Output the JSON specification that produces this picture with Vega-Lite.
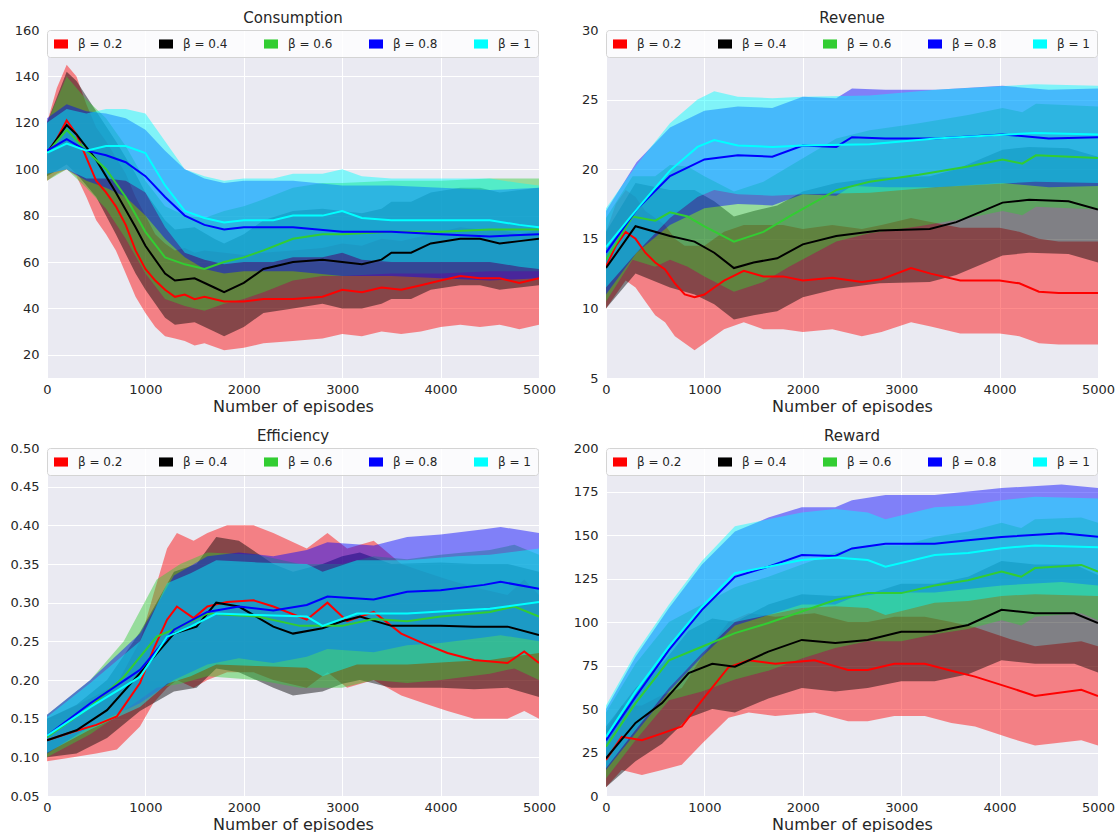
{
"$schema": "https://vega.github.io/schema/vega-lite/v6.json",
"background": "white",
"padding": {"left": 10, "top": 11, "right": 0, "bottom": 0},
"config": {
  "view": {"fill": "#EAEAF2", "stroke": null},
  "axis": {"grid": true, "gridColor": "#ffffff", "gridWidth": 1, "domain": false, "ticks": false, "labelFont": "DejaVu Sans", "labelFontSize": 13, "labelColor": "#262626", "titleFont": "DejaVu Sans", "titleFontSize": 16, "titleFontWeight": "normal", "titleColor": "#262626", "labelPadding": 8, "titlePadding": 2, "labelFlush": false, "labelOverlap": false},
  "axisX": {"labelPadding": 5},
  "title": {"font": "DejaVu Sans", "fontSize": 15, "fontWeight": "normal", "color": "#262626", "offset": -2},
  "legend": {"direction": "horizontal", "columns": 5, "columnPadding": 36, "padding": 7, "fillColor": "rgba(255,255,255,0.82)", "strokeColor": "#d4d4d4", "cornerRadius": 3, "symbolType": "M-1,-0.65L1,-0.65L1,0.65L-1,0.65Z", "symbolSize": 196, "symbolOpacity": 1, "symbolStrokeWidth": 0, "labelFont": "DejaVu Sans", "labelFontSize": 12, "labelColor": "#262626", "labelOffset": 10}
},
"datasets": {
"C": [
{"b":"β = 0.2","x":0,"y":107,"lo":95,"hi":120},{"b":"β = 0.2","x":100,"y":113,"lo":98,"hi":135},{"b":"β = 0.2","x":200,"y":121,"lo":100,"hi":145},{"b":"β = 0.2","x":300,"y":115,"lo":97,"hi":140},{"b":"β = 0.2","x":400,"y":105,"lo":88,"hi":128},{"b":"β = 0.2","x":500,"y":95,"lo":78,"hi":118},{"b":"β = 0.2","x":600,"y":90,"lo":72,"hi":112},{"b":"β = 0.2","x":700,"y":84,"lo":65,"hi":105},{"b":"β = 0.2","x":800,"y":76,"lo":55,"hi":98},{"b":"β = 0.2","x":900,"y":65,"lo":45,"hi":88},{"b":"β = 0.2","x":1000,"y":57,"lo":38,"hi":80},{"b":"β = 0.2","x":1100,"y":52,"lo":32,"hi":72},{"b":"β = 0.2","x":1200,"y":48,"lo":28,"hi":68},{"b":"β = 0.2","x":1300,"y":45,"lo":27,"hi":65},{"b":"β = 0.2","x":1400,"y":46,"lo":26,"hi":66},{"b":"β = 0.2","x":1500,"y":44,"lo":24,"hi":64},{"b":"β = 0.2","x":1600,"y":45,"lo":25,"hi":65},{"b":"β = 0.2","x":1800,"y":43,"lo":22,"hi":64},{"b":"β = 0.2","x":2000,"y":43,"lo":23,"hi":63},{"b":"β = 0.2","x":2200,"y":44,"lo":25,"hi":64},{"b":"β = 0.2","x":2500,"y":44,"lo":26,"hi":65},{"b":"β = 0.2","x":2800,"y":45,"lo":27,"hi":66},{"b":"β = 0.2","x":3000,"y":48,"lo":29,"hi":68},{"b":"β = 0.2","x":3200,"y":47,"lo":28,"hi":67},{"b":"β = 0.2","x":3400,"y":49,"lo":30,"hi":70},{"b":"β = 0.2","x":3600,"y":48,"lo":29,"hi":69},{"b":"β = 0.2","x":3800,"y":50,"lo":30,"hi":71},{"b":"β = 0.2","x":4000,"y":52,"lo":32,"hi":73},{"b":"β = 0.2","x":4200,"y":54,"lo":33,"hi":75},{"b":"β = 0.2","x":4400,"y":53,"lo":32,"hi":74},{"b":"β = 0.2","x":4600,"y":53,"lo":33,"hi":74},{"b":"β = 0.2","x":4800,"y":51,"lo":31,"hi":72},{"b":"β = 0.2","x":5000,"y":53,"lo":33,"hi":74},
{"b":"β = 0.4","x":0,"y":107,"lo":97,"hi":120},{"b":"β = 0.4","x":200,"y":119,"lo":102,"hi":142},{"b":"β = 0.4","x":300,"y":115,"lo":98,"hi":138},{"b":"β = 0.4","x":500,"y":104,"lo":88,"hi":125},{"b":"β = 0.4","x":700,"y":90,"lo":72,"hi":112},{"b":"β = 0.4","x":900,"y":75,"lo":55,"hi":98},{"b":"β = 0.4","x":1000,"y":67,"lo":48,"hi":90},{"b":"β = 0.4","x":1200,"y":55,"lo":36,"hi":78},{"b":"β = 0.4","x":1300,"y":52,"lo":33,"hi":74},{"b":"β = 0.4","x":1500,"y":53,"lo":34,"hi":75},{"b":"β = 0.4","x":1700,"y":49,"lo":30,"hi":70},{"b":"β = 0.4","x":1800,"y":47,"lo":28,"hi":68},{"b":"β = 0.4","x":2000,"y":51,"lo":32,"hi":72},{"b":"β = 0.4","x":2200,"y":57,"lo":38,"hi":78},{"b":"β = 0.4","x":2500,"y":60,"lo":40,"hi":82},{"b":"β = 0.4","x":2800,"y":61,"lo":42,"hi":83},{"b":"β = 0.4","x":3000,"y":60,"lo":40,"hi":82},{"b":"β = 0.4","x":3200,"y":59,"lo":40,"hi":81},{"b":"β = 0.4","x":3400,"y":61,"lo":42,"hi":83},{"b":"β = 0.4","x":3500,"y":64,"lo":44,"hi":86},{"b":"β = 0.4","x":3700,"y":64,"lo":44,"hi":86},{"b":"β = 0.4","x":3900,"y":68,"lo":48,"hi":90},{"b":"β = 0.4","x":4200,"y":70,"lo":50,"hi":92},{"b":"β = 0.4","x":4400,"y":70,"lo":50,"hi":92},{"b":"β = 0.4","x":4600,"y":68,"lo":48,"hi":90},{"b":"β = 0.4","x":4800,"y":69,"lo":49,"hi":91},{"b":"β = 0.4","x":5000,"y":70,"lo":50,"hi":92},
{"b":"β = 0.6","x":0,"y":107,"lo":95,"hi":120},{"b":"β = 0.6","x":200,"y":117,"lo":100,"hi":140},{"b":"β = 0.6","x":400,"y":108,"lo":92,"hi":130},{"b":"β = 0.6","x":600,"y":100,"lo":83,"hi":122},{"b":"β = 0.6","x":800,"y":88,"lo":70,"hi":110},{"b":"β = 0.6","x":1000,"y":73,"lo":55,"hi":95},{"b":"β = 0.6","x":1200,"y":62,"lo":44,"hi":84},{"b":"β = 0.6","x":1400,"y":59,"lo":41,"hi":80},{"b":"β = 0.6","x":1600,"y":57,"lo":39,"hi":79},{"b":"β = 0.6","x":1800,"y":60,"lo":42,"hi":82},{"b":"β = 0.6","x":2000,"y":62,"lo":44,"hi":84},{"b":"β = 0.6","x":2200,"y":65,"lo":47,"hi":87},{"b":"β = 0.6","x":2500,"y":70,"lo":52,"hi":92},{"b":"β = 0.6","x":2800,"y":72,"lo":54,"hi":94},{"b":"β = 0.6","x":3000,"y":72,"lo":54,"hi":94},{"b":"β = 0.6","x":3500,"y":73,"lo":55,"hi":95},{"b":"β = 0.6","x":4000,"y":73,"lo":55,"hi":95},{"b":"β = 0.6","x":4500,"y":74,"lo":56,"hi":96},{"b":"β = 0.6","x":5000,"y":74,"lo":56,"hi":96},
{"b":"β = 0.8","x":0,"y":108,"lo":98,"hi":122},{"b":"β = 0.8","x":200,"y":113,"lo":100,"hi":128},{"b":"β = 0.8","x":400,"y":108,"lo":95,"hi":125},{"b":"β = 0.8","x":600,"y":106,"lo":92,"hi":124},{"b":"β = 0.8","x":800,"y":103,"lo":88,"hi":122},{"b":"β = 0.8","x":1000,"y":97,"lo":80,"hi":117},{"b":"β = 0.8","x":1200,"y":88,"lo":70,"hi":108},{"b":"β = 0.8","x":1400,"y":80,"lo":62,"hi":100},{"b":"β = 0.8","x":1600,"y":76,"lo":57,"hi":96},{"b":"β = 0.8","x":1800,"y":74,"lo":55,"hi":94},{"b":"β = 0.8","x":2000,"y":75,"lo":56,"hi":95},{"b":"β = 0.8","x":2500,"y":75,"lo":56,"hi":95},{"b":"β = 0.8","x":3000,"y":73,"lo":54,"hi":93},{"b":"β = 0.8","x":3500,"y":73,"lo":54,"hi":93},{"b":"β = 0.8","x":4000,"y":72,"lo":53,"hi":92},{"b":"β = 0.8","x":4500,"y":71,"lo":52,"hi":91},{"b":"β = 0.8","x":5000,"y":72,"lo":53,"hi":92},
{"b":"β = 1","x":0,"y":107,"lo":98,"hi":120},{"b":"β = 1","x":200,"y":111,"lo":100,"hi":126},{"b":"β = 1","x":400,"y":108,"lo":96,"hi":124},{"b":"β = 1","x":600,"y":110,"lo":96,"hi":126},{"b":"β = 1","x":800,"y":110,"lo":95,"hi":126},{"b":"β = 1","x":1000,"y":107,"lo":90,"hi":124},{"b":"β = 1","x":1200,"y":93,"lo":75,"hi":112},{"b":"β = 1","x":1400,"y":82,"lo":64,"hi":100},{"b":"β = 1","x":1600,"y":79,"lo":61,"hi":97},{"b":"β = 1","x":1800,"y":77,"lo":59,"hi":95},{"b":"β = 1","x":2000,"y":78,"lo":60,"hi":96},{"b":"β = 1","x":2300,"y":78,"lo":60,"hi":96},{"b":"β = 1","x":2500,"y":80,"lo":62,"hi":98},{"b":"β = 1","x":2800,"y":80,"lo":62,"hi":98},{"b":"β = 1","x":3000,"y":82,"lo":64,"hi":100},{"b":"β = 1","x":3200,"y":79,"lo":61,"hi":97},{"b":"β = 1","x":3500,"y":78,"lo":60,"hi":96},{"b":"β = 1","x":4000,"y":78,"lo":60,"hi":96},{"b":"β = 1","x":4500,"y":78,"lo":60,"hi":96},{"b":"β = 1","x":4800,"y":76,"lo":58,"hi":94},{"b":"β = 1","x":5000,"y":75,"lo":57,"hi":93}
],
"R": [
{"b":"β = 0.2","x":0,"y":13.0,"lo":10,"hi":15.5},{"b":"β = 0.2","x":100,"y":14.5,"lo":11,"hi":17.5},{"b":"β = 0.2","x":200,"y":15.5,"lo":12,"hi":18.5},{"b":"β = 0.2","x":300,"y":15.0,"lo":11.5,"hi":18},{"b":"β = 0.2","x":400,"y":14.0,"lo":10.5,"hi":17},{"b":"β = 0.2","x":500,"y":13.3,"lo":9.5,"hi":16.5},{"b":"β = 0.2","x":600,"y":12.8,"lo":9,"hi":16},{"b":"β = 0.2","x":700,"y":11.8,"lo":8,"hi":15},{"b":"β = 0.2","x":800,"y":11.0,"lo":7.5,"hi":14.5},{"b":"β = 0.2","x":900,"y":10.8,"lo":7,"hi":14.5},{"b":"β = 0.2","x":1000,"y":11.0,"lo":7.5,"hi":14.5},{"b":"β = 0.2","x":1100,"y":11.5,"lo":8,"hi":15},{"b":"β = 0.2","x":1200,"y":12.0,"lo":8.5,"hi":15.5},{"b":"β = 0.2","x":1400,"y":12.7,"lo":9,"hi":16},{"b":"β = 0.2","x":1600,"y":12.3,"lo":8.5,"hi":16},{"b":"β = 0.2","x":1800,"y":12.3,"lo":8.5,"hi":16},{"b":"β = 0.2","x":2000,"y":12.0,"lo":8.3,"hi":15.7},{"b":"β = 0.2","x":2300,"y":12.2,"lo":8.5,"hi":16},{"b":"β = 0.2","x":2600,"y":11.9,"lo":8,"hi":15.7},{"b":"β = 0.2","x":2800,"y":12.1,"lo":8.3,"hi":16},{"b":"β = 0.2","x":3100,"y":12.9,"lo":9,"hi":16.5},{"b":"β = 0.2","x":3300,"y":12.5,"lo":8.7,"hi":16.2},{"b":"β = 0.2","x":3600,"y":12.0,"lo":8.2,"hi":15.8},{"b":"β = 0.2","x":4000,"y":12.0,"lo":8.2,"hi":15.8},{"b":"β = 0.2","x":4200,"y":11.8,"lo":8,"hi":15.5},{"b":"β = 0.2","x":4400,"y":11.2,"lo":7.5,"hi":15},{"b":"β = 0.2","x":4600,"y":11.1,"lo":7.4,"hi":14.8},{"b":"β = 0.2","x":5000,"y":11.1,"lo":7.4,"hi":14.8},
{"b":"β = 0.4","x":0,"y":12.9,"lo":10,"hi":15.5},{"b":"β = 0.4","x":300,"y":15.9,"lo":12.5,"hi":19},{"b":"β = 0.4","x":650,"y":15.2,"lo":11.5,"hi":18.5},{"b":"β = 0.4","x":900,"y":14.8,"lo":11,"hi":18.5},{"b":"β = 0.4","x":1100,"y":14.0,"lo":10.3,"hi":17.7},{"b":"β = 0.4","x":1300,"y":12.9,"lo":9.2,"hi":16.6},{"b":"β = 0.4","x":1500,"y":13.3,"lo":9.5,"hi":17},{"b":"β = 0.4","x":1740,"y":13.6,"lo":9.8,"hi":17.4},{"b":"β = 0.4","x":2000,"y":14.6,"lo":10.8,"hi":18.4},{"b":"β = 0.4","x":2340,"y":15.2,"lo":11.4,"hi":19},{"b":"β = 0.4","x":2780,"y":15.6,"lo":11.8,"hi":19.4},{"b":"β = 0.4","x":3290,"y":15.7,"lo":11.9,"hi":19.5},{"b":"β = 0.4","x":3560,"y":16.2,"lo":12.4,"hi":20},{"b":"β = 0.4","x":4030,"y":17.6,"lo":13.8,"hi":21.4},{"b":"β = 0.4","x":4300,"y":17.8,"lo":14,"hi":21.6},{"b":"β = 0.4","x":4700,"y":17.7,"lo":13.9,"hi":21.5},{"b":"β = 0.4","x":5000,"y":17.1,"lo":13.3,"hi":20.9},
{"b":"β = 0.6","x":0,"y":13.5,"lo":10.5,"hi":16.5},{"b":"β = 0.6","x":270,"y":16.6,"lo":13.5,"hi":19.5},{"b":"β = 0.6","x":500,"y":16.3,"lo":13,"hi":19.5},{"b":"β = 0.6","x":650,"y":16.9,"lo":13.5,"hi":20.3},{"b":"β = 0.6","x":830,"y":16.6,"lo":13,"hi":20.2},{"b":"β = 0.6","x":1000,"y":15.9,"lo":12.3,"hi":19.5},{"b":"β = 0.6","x":1300,"y":14.8,"lo":11.2,"hi":18.4},{"b":"β = 0.6","x":1600,"y":15.5,"lo":11.9,"hi":19.1},{"b":"β = 0.6","x":1860,"y":16.6,"lo":13,"hi":20.2},{"b":"β = 0.6","x":2340,"y":18.5,"lo":14.8,"hi":22.2},{"b":"β = 0.6","x":2680,"y":19.1,"lo":15.4,"hi":22.8},{"b":"β = 0.6","x":3180,"y":19.6,"lo":15.9,"hi":23.3},{"b":"β = 0.6","x":3680,"y":20.2,"lo":16.5,"hi":23.9},{"b":"β = 0.6","x":4030,"y":20.7,"lo":17,"hi":24.4},{"b":"β = 0.6","x":4230,"y":20.4,"lo":16.7,"hi":24.1},{"b":"β = 0.6","x":4370,"y":21.0,"lo":17.3,"hi":24.7},{"b":"β = 0.6","x":5000,"y":20.8,"lo":17.1,"hi":24.5},
{"b":"β = 0.8","x":0,"y":14.0,"lo":11,"hi":17},{"b":"β = 0.8","x":310,"y":17.1,"lo":14,"hi":20.5},{"b":"β = 0.8","x":650,"y":19.5,"lo":16,"hi":23},{"b":"β = 0.8","x":1000,"y":20.7,"lo":17.2,"hi":24.2},{"b":"β = 0.8","x":1340,"y":21.0,"lo":17.5,"hi":24.5},{"b":"β = 0.8","x":1690,"y":20.9,"lo":17.4,"hi":24.4},{"b":"β = 0.8","x":2000,"y":21.7,"lo":18.2,"hi":25.2},{"b":"β = 0.8","x":2340,"y":21.6,"lo":18.1,"hi":25.1},{"b":"β = 0.8","x":2500,"y":22.3,"lo":18.8,"hi":25.8},{"b":"β = 0.8","x":2840,"y":22.2,"lo":18.7,"hi":25.7},{"b":"β = 0.8","x":3350,"y":22.2,"lo":18.7,"hi":25.7},{"b":"β = 0.8","x":4030,"y":22.5,"lo":19,"hi":26},{"b":"β = 0.8","x":4500,"y":22.2,"lo":18.7,"hi":25.7},{"b":"β = 0.8","x":5000,"y":22.3,"lo":18.8,"hi":25.8},
{"b":"β = 1","x":0,"y":14.4,"lo":11.5,"hi":17.2},{"b":"β = 1","x":310,"y":17.1,"lo":14,"hi":20.3},{"b":"β = 1","x":650,"y":19.9,"lo":16.5,"hi":23.3},{"b":"β = 1","x":930,"y":21.6,"lo":18,"hi":25},{"b":"β = 1","x":1100,"y":22.1,"lo":18.5,"hi":25.6},{"b":"β = 1","x":1340,"y":21.7,"lo":18.2,"hi":25.2},{"b":"β = 1","x":1690,"y":21.6,"lo":18.1,"hi":25.1},{"b":"β = 1","x":2000,"y":21.7,"lo":18.2,"hi":25.2},{"b":"β = 1","x":2680,"y":21.8,"lo":18.3,"hi":25.3},{"b":"β = 1","x":3350,"y":22.2,"lo":18.7,"hi":25.7},{"b":"β = 1","x":4360,"y":22.6,"lo":19.1,"hi":26.1},{"b":"β = 1","x":5000,"y":22.5,"lo":19,"hi":26}
],
"E": [
{"b":"β = 0.2","x":0,"y":0.122,"lo":0.095,"hi":0.15},{"b":"β = 0.2","x":265,"y":0.133,"lo":0.1,"hi":0.165},{"b":"β = 0.2","x":500,"y":0.142,"lo":0.105,"hi":0.18},{"b":"β = 0.2","x":710,"y":0.153,"lo":0.11,"hi":0.195},{"b":"β = 0.2","x":945,"y":0.196,"lo":0.14,"hi":0.25},{"b":"β = 0.2","x":1080,"y":0.239,"lo":0.17,"hi":0.31},{"b":"β = 0.2","x":1220,"y":0.278,"lo":0.19,"hi":0.37},{"b":"β = 0.2","x":1320,"y":0.295,"lo":0.2,"hi":0.39},{"b":"β = 0.2","x":1490,"y":0.28,"lo":0.19,"hi":0.38},{"b":"β = 0.2","x":1630,"y":0.295,"lo":0.2,"hi":0.39},{"b":"β = 0.2","x":1830,"y":0.301,"lo":0.21,"hi":0.4},{"b":"β = 0.2","x":2100,"y":0.303,"lo":0.21,"hi":0.4},{"b":"β = 0.2","x":2300,"y":0.295,"lo":0.2,"hi":0.39},{"b":"β = 0.2","x":2640,"y":0.278,"lo":0.19,"hi":0.37},{"b":"β = 0.2","x":2850,"y":0.3,"lo":0.21,"hi":0.39},{"b":"β = 0.2","x":3050,"y":0.276,"lo":0.19,"hi":0.37},{"b":"β = 0.2","x":3320,"y":0.288,"lo":0.2,"hi":0.38},{"b":"β = 0.2","x":3600,"y":0.26,"lo":0.18,"hi":0.35},{"b":"β = 0.2","x":3830,"y":0.247,"lo":0.17,"hi":0.34},{"b":"β = 0.2","x":4070,"y":0.235,"lo":0.16,"hi":0.33},{"b":"β = 0.2","x":4340,"y":0.226,"lo":0.15,"hi":0.32},{"b":"β = 0.2","x":4680,"y":0.222,"lo":0.15,"hi":0.31},{"b":"β = 0.2","x":4850,"y":0.237,"lo":0.16,"hi":0.33},{"b":"β = 0.2","x":5000,"y":0.222,"lo":0.15,"hi":0.31},
{"b":"β = 0.4","x":0,"y":0.122,"lo":0.1,"hi":0.15},{"b":"β = 0.4","x":300,"y":0.135,"lo":0.105,"hi":0.168},{"b":"β = 0.4","x":610,"y":0.161,"lo":0.125,"hi":0.2},{"b":"β = 0.4","x":945,"y":0.209,"lo":0.16,"hi":0.262},{"b":"β = 0.4","x":1290,"y":0.26,"lo":0.185,"hi":0.34},{"b":"β = 0.4","x":1520,"y":0.269,"lo":0.19,"hi":0.35},{"b":"β = 0.4","x":1720,"y":0.3,"lo":0.215,"hi":0.385},{"b":"β = 0.4","x":1950,"y":0.295,"lo":0.21,"hi":0.38},{"b":"β = 0.4","x":2300,"y":0.269,"lo":0.19,"hi":0.35},{"b":"β = 0.4","x":2500,"y":0.26,"lo":0.18,"hi":0.34},{"b":"β = 0.4","x":2800,"y":0.267,"lo":0.185,"hi":0.35},{"b":"β = 0.4","x":3000,"y":0.276,"lo":0.195,"hi":0.36},{"b":"β = 0.4","x":3180,"y":0.282,"lo":0.2,"hi":0.365},{"b":"β = 0.4","x":3500,"y":0.27,"lo":0.19,"hi":0.35},{"b":"β = 0.4","x":4000,"y":0.27,"lo":0.19,"hi":0.352},{"b":"β = 0.4","x":4340,"y":0.269,"lo":0.188,"hi":0.35},{"b":"β = 0.4","x":4680,"y":0.269,"lo":0.19,"hi":0.35},{"b":"β = 0.4","x":5000,"y":0.258,"lo":0.178,"hi":0.34},
{"b":"β = 0.6","x":0,"y":0.126,"lo":0.1,"hi":0.155},{"b":"β = 0.6","x":440,"y":0.165,"lo":0.13,"hi":0.2},{"b":"β = 0.6","x":780,"y":0.204,"lo":0.16,"hi":0.25},{"b":"β = 0.6","x":1115,"y":0.256,"lo":0.19,"hi":0.33},{"b":"β = 0.6","x":1355,"y":0.269,"lo":0.195,"hi":0.35},{"b":"β = 0.6","x":1630,"y":0.286,"lo":0.205,"hi":0.365},{"b":"β = 0.6","x":2140,"y":0.282,"lo":0.2,"hi":0.362},{"b":"β = 0.6","x":2570,"y":0.27,"lo":0.19,"hi":0.35},{"b":"β = 0.6","x":3000,"y":0.27,"lo":0.19,"hi":0.35},{"b":"β = 0.6","x":3320,"y":0.279,"lo":0.2,"hi":0.36},{"b":"β = 0.6","x":3660,"y":0.276,"lo":0.196,"hi":0.356},{"b":"β = 0.6","x":4000,"y":0.282,"lo":0.2,"hi":0.362},{"b":"β = 0.6","x":4500,"y":0.288,"lo":0.208,"hi":0.368},{"b":"β = 0.6","x":4750,"y":0.295,"lo":0.215,"hi":0.375},{"b":"β = 0.6","x":5000,"y":0.282,"lo":0.2,"hi":0.362},
{"b":"β = 0.8","x":0,"y":0.128,"lo":0.105,"hi":0.155},{"b":"β = 0.8","x":440,"y":0.17,"lo":0.14,"hi":0.2},{"b":"β = 0.8","x":945,"y":0.213,"lo":0.17,"hi":0.26},{"b":"β = 0.8","x":1290,"y":0.265,"lo":0.2,"hi":0.335},{"b":"β = 0.8","x":1630,"y":0.288,"lo":0.22,"hi":0.36},{"b":"β = 0.8","x":1950,"y":0.295,"lo":0.228,"hi":0.365},{"b":"β = 0.8","x":2300,"y":0.29,"lo":0.222,"hi":0.36},{"b":"β = 0.8","x":2640,"y":0.297,"lo":0.23,"hi":0.368},{"b":"β = 0.8","x":2850,"y":0.308,"lo":0.24,"hi":0.378},{"b":"β = 0.8","x":3320,"y":0.304,"lo":0.236,"hi":0.374},{"b":"β = 0.8","x":3660,"y":0.314,"lo":0.245,"hi":0.385},{"b":"β = 0.8","x":4000,"y":0.316,"lo":0.248,"hi":0.388},{"b":"β = 0.8","x":4440,"y":0.323,"lo":0.255,"hi":0.395},{"b":"β = 0.8","x":4610,"y":0.327,"lo":0.258,"hi":0.398},{"b":"β = 0.8","x":5000,"y":0.318,"lo":0.25,"hi":0.39},
{"b":"β = 1","x":0,"y":0.128,"lo":0.106,"hi":0.152},{"b":"β = 1","x":440,"y":0.165,"lo":0.136,"hi":0.196},{"b":"β = 1","x":945,"y":0.204,"lo":0.165,"hi":0.25},{"b":"β = 1","x":1220,"y":0.256,"lo":0.195,"hi":0.325},{"b":"β = 1","x":1460,"y":0.269,"lo":0.205,"hi":0.338},{"b":"β = 1","x":1720,"y":0.286,"lo":0.22,"hi":0.355},{"b":"β = 1","x":2140,"y":0.284,"lo":0.218,"hi":0.352},{"b":"β = 1","x":2640,"y":0.282,"lo":0.216,"hi":0.35},{"b":"β = 1","x":2800,"y":0.27,"lo":0.205,"hi":0.34},{"b":"β = 1","x":3150,"y":0.286,"lo":0.22,"hi":0.355},{"b":"β = 1","x":3660,"y":0.286,"lo":0.22,"hi":0.355},{"b":"β = 1","x":4170,"y":0.29,"lo":0.224,"hi":0.36},{"b":"β = 1","x":4500,"y":0.292,"lo":0.226,"hi":0.362},{"b":"β = 1","x":5000,"y":0.301,"lo":0.235,"hi":0.37}
],
"W": [
{"b":"β = 0.2","x":0,"y":20.7,"lo":5,"hi":38},{"b":"β = 0.2","x":160,"y":34,"lo":15,"hi":52},{"b":"β = 0.2","x":365,"y":32,"lo":12,"hi":52},{"b":"β = 0.2","x":570,"y":36,"lo":15,"hi":58},{"b":"β = 0.2","x":770,"y":40,"lo":18,"hi":62},{"b":"β = 0.2","x":975,"y":55,"lo":30,"hi":80},{"b":"β = 0.2","x":1245,"y":74,"lo":45,"hi":100},{"b":"β = 0.2","x":1450,"y":78,"lo":48,"hi":105},{"b":"β = 0.2","x":1720,"y":76,"lo":46,"hi":103},{"b":"β = 0.2","x":2120,"y":78,"lo":48,"hi":105},{"b":"β = 0.2","x":2460,"y":72.4,"lo":43,"hi":100},{"b":"β = 0.2","x":2660,"y":72.4,"lo":43,"hi":100},{"b":"β = 0.2","x":2930,"y":76,"lo":46,"hi":103},{"b":"β = 0.2","x":3240,"y":76,"lo":46,"hi":103},{"b":"β = 0.2","x":3510,"y":72,"lo":42,"hi":100},{"b":"β = 0.2","x":3750,"y":68.6,"lo":40,"hi":97},{"b":"β = 0.2","x":4120,"y":62,"lo":33,"hi":90},{"b":"β = 0.2","x":4360,"y":57.5,"lo":29,"hi":86},{"b":"β = 0.2","x":4830,"y":61,"lo":32,"hi":89},{"b":"β = 0.2","x":5000,"y":57.5,"lo":29,"hi":86},
{"b":"β = 0.4","x":0,"y":21.6,"lo":5,"hi":40},{"b":"β = 0.4","x":300,"y":42,"lo":20,"hi":62},{"b":"β = 0.4","x":570,"y":53.4,"lo":30,"hi":76},{"b":"β = 0.4","x":840,"y":70.6,"lo":45,"hi":95},{"b":"β = 0.4","x":1080,"y":76,"lo":50,"hi":102},{"b":"β = 0.4","x":1310,"y":74.3,"lo":48,"hi":100},{"b":"β = 0.4","x":1650,"y":83,"lo":56,"hi":110},{"b":"β = 0.4","x":1990,"y":89.7,"lo":62,"hi":116},{"b":"β = 0.4","x":2330,"y":88,"lo":60,"hi":115},{"b":"β = 0.4","x":2660,"y":89.7,"lo":62,"hi":116},{"b":"β = 0.4","x":3000,"y":94.4,"lo":66,"hi":122},{"b":"β = 0.4","x":3340,"y":94.4,"lo":66,"hi":122},{"b":"β = 0.4","x":3680,"y":98.3,"lo":70,"hi":126},{"b":"β = 0.4","x":4020,"y":107,"lo":78,"hi":135},{"b":"β = 0.4","x":4360,"y":105,"lo":76,"hi":133},{"b":"β = 0.4","x":4760,"y":105,"lo":76,"hi":133},{"b":"β = 0.4","x":5000,"y":99.4,"lo":71,"hi":127},
{"b":"β = 0.6","x":0,"y":28.3,"lo":10,"hi":48},{"b":"β = 0.6","x":300,"y":53.4,"lo":32,"hi":76},{"b":"β = 0.6","x":640,"y":78,"lo":55,"hi":100},{"b":"β = 0.6","x":975,"y":85.8,"lo":60,"hi":110},{"b":"β = 0.6","x":1310,"y":93.6,"lo":67,"hi":120},{"b":"β = 0.6","x":1650,"y":99.4,"lo":72,"hi":126},{"b":"β = 0.6","x":1990,"y":106,"lo":79,"hi":133},{"b":"β = 0.6","x":2330,"y":112.6,"lo":85,"hi":140},{"b":"β = 0.6","x":2660,"y":116.6,"lo":89,"hi":144},{"b":"β = 0.6","x":3000,"y":116.6,"lo":89,"hi":144},{"b":"β = 0.6","x":3340,"y":121,"lo":93,"hi":149},{"b":"β = 0.6","x":3680,"y":124,"lo":96,"hi":152},{"b":"β = 0.6","x":4020,"y":129,"lo":101,"hi":157},{"b":"β = 0.6","x":4220,"y":126,"lo":98,"hi":154},{"b":"β = 0.6","x":4360,"y":131,"lo":103,"hi":159},{"b":"β = 0.6","x":4830,"y":132.8,"lo":105,"hi":160},{"b":"β = 0.6","x":5000,"y":129,"lo":101,"hi":157},
{"b":"β = 0.8","x":0,"y":32,"lo":15,"hi":50},{"b":"β = 0.8","x":300,"y":57,"lo":36,"hi":80},{"b":"β = 0.8","x":640,"y":84,"lo":60,"hi":108},{"b":"β = 0.8","x":975,"y":107,"lo":80,"hi":133},{"b":"β = 0.8","x":1310,"y":126,"lo":98,"hi":152},{"b":"β = 0.8","x":1650,"y":131.8,"lo":104,"hi":160},{"b":"β = 0.8","x":1990,"y":138.5,"lo":110,"hi":166},{"b":"β = 0.8","x":2330,"y":138,"lo":110,"hi":166},{"b":"β = 0.8","x":2500,"y":142.3,"lo":114,"hi":170},{"b":"β = 0.8","x":2840,"y":145,"lo":117,"hi":173},{"b":"β = 0.8","x":3340,"y":145,"lo":117,"hi":173},{"b":"β = 0.8","x":3680,"y":147,"lo":119,"hi":175},{"b":"β = 0.8","x":4020,"y":148.9,"lo":121,"hi":177},{"b":"β = 0.8","x":4630,"y":151,"lo":123,"hi":179},{"b":"β = 0.8","x":5000,"y":149,"lo":121,"hi":177},
{"b":"β = 1","x":0,"y":34,"lo":16,"hi":52},{"b":"β = 1","x":300,"y":60,"lo":38,"hi":82},{"b":"β = 1","x":640,"y":86,"lo":62,"hi":110},{"b":"β = 1","x":975,"y":108.8,"lo":82,"hi":135},{"b":"β = 1","x":1310,"y":128,"lo":100,"hi":155},{"b":"β = 1","x":1650,"y":131.8,"lo":104,"hi":159},{"b":"β = 1","x":1990,"y":135.6,"lo":108,"hi":163},{"b":"β = 1","x":2330,"y":137,"lo":109,"hi":165},{"b":"β = 1","x":2660,"y":135.6,"lo":108,"hi":163},{"b":"β = 1","x":2840,"y":131.8,"lo":104,"hi":159},{"b":"β = 1","x":3340,"y":138.5,"lo":111,"hi":166},{"b":"β = 1","x":3680,"y":139.7,"lo":112,"hi":167},{"b":"β = 1","x":4020,"y":142.4,"lo":115,"hi":170},{"b":"β = 1","x":4360,"y":144,"lo":116,"hi":172},{"b":"β = 1","x":5000,"y":143,"lo":115,"hi":171}
]
},
"columns": 2,
"spacing": {"row": 15, "column": 17},
"resolve": {"scale": {"x": "independent", "y": "independent", "fill": "independent", "stroke": "independent"}, "legend": {"fill": "independent"}},
"concat": [
{
 "title": "Consumption", "width": 492, "height": 348, "data": {"name": "C"},
 "encoding": {"x": {"field": "x", "type": "quantitative", "scale": {"domain": [0, 5000], "nice": false, "zero": false}, "axis": {"title": "Number of episodes", "values": [0, 1000, 2000, 3000, 4000, 5000], "format": "d", "labelOverlap": false}}},
 "layer": [
  {"transform": [{"filter": "datum.b == 'β = 0.2'"}], "mark": {"type": "area", "fillOpacity": 0.45, "clip": true}, "encoding": {"y": {"field": "lo", "type": "quantitative", "title": null, "scale": {"domain": [10, 160], "nice": false, "zero": false}}, "y2": {"field": "hi"}, "fill": {"field": "b", "type": "nominal", "title": null, "scale": {"domain": ["β = 0.2", "β = 0.4", "β = 0.6", "β = 0.8", "β = 1"], "range": ["#ff0000", "#000000", "#32cd32", "#0000ff", "#00ffff"]}, "legend": {"orient": "none", "legendX": 0, "legendY": 0}}}},
  {"transform": [{"filter": "datum.b == 'β = 0.4'"}], "mark": {"type": "area", "fillOpacity": 0.45, "clip": true}, "encoding": {"y": {"field": "lo", "type": "quantitative", "title": null, "scale": {"domain": [10, 160], "nice": false, "zero": false}}, "y2": {"field": "hi"}, "fill": {"field": "b", "type": "nominal", "title": null, "scale": {"domain": ["β = 0.2", "β = 0.4", "β = 0.6", "β = 0.8", "β = 1"], "range": ["#ff0000", "#000000", "#32cd32", "#0000ff", "#00ffff"]}, "legend": {"orient": "none", "legendX": 0, "legendY": 0}}}},
  {"transform": [{"filter": "datum.b == 'β = 0.6'"}], "mark": {"type": "area", "fillOpacity": 0.45, "clip": true}, "encoding": {"y": {"field": "lo", "type": "quantitative", "title": null, "scale": {"domain": [10, 160], "nice": false, "zero": false}}, "y2": {"field": "hi"}, "fill": {"field": "b", "type": "nominal", "title": null, "scale": {"domain": ["β = 0.2", "β = 0.4", "β = 0.6", "β = 0.8", "β = 1"], "range": ["#ff0000", "#000000", "#32cd32", "#0000ff", "#00ffff"]}, "legend": {"orient": "none", "legendX": 0, "legendY": 0}}}},
  {"transform": [{"filter": "datum.b == 'β = 0.8'"}], "mark": {"type": "area", "fillOpacity": 0.45, "clip": true}, "encoding": {"y": {"field": "lo", "type": "quantitative", "title": null, "scale": {"domain": [10, 160], "nice": false, "zero": false}}, "y2": {"field": "hi"}, "fill": {"field": "b", "type": "nominal", "title": null, "scale": {"domain": ["β = 0.2", "β = 0.4", "β = 0.6", "β = 0.8", "β = 1"], "range": ["#ff0000", "#000000", "#32cd32", "#0000ff", "#00ffff"]}, "legend": {"orient": "none", "legendX": 0, "legendY": 0}}}},
  {"transform": [{"filter": "datum.b == 'β = 1'"}], "mark": {"type": "area", "fillOpacity": 0.45, "clip": true}, "encoding": {"y": {"field": "lo", "type": "quantitative", "title": null, "scale": {"domain": [10, 160], "nice": false, "zero": false}}, "y2": {"field": "hi"}, "fill": {"field": "b", "type": "nominal", "title": null, "scale": {"domain": ["β = 0.2", "β = 0.4", "β = 0.6", "β = 0.8", "β = 1"], "range": ["#ff0000", "#000000", "#32cd32", "#0000ff", "#00ffff"]}, "legend": {"orient": "none", "legendX": 0, "legendY": 0}}}},
  {"mark": {"type": "line", "strokeWidth": 2, "clip": true}, "encoding": {"y": {"field": "y", "type": "quantitative", "title": null, "scale": {"domain": [10, 160], "nice": false, "zero": false}, "axis": {"values": [20, 40, 60, 80, 100, 120, 140, 160], "tickCount": 12, "format": "d", "labelOverlap": false}}, "stroke": {"field": "b", "type": "nominal", "legend": null, "scale": {"domain": ["β = 0.2", "β = 0.4", "β = 0.6", "β = 0.8", "β = 1"], "range": ["#ff0000", "#000000", "#32cd32", "#0000ff", "#00ffff"]}}}}
 ]
},
{
 "title": "Revenue", "width": 492, "height": 348, "data": {"name": "R"},
 "encoding": {"x": {"field": "x", "type": "quantitative", "scale": {"domain": [0, 5000], "nice": false, "zero": false}, "axis": {"title": "Number of episodes", "values": [0, 1000, 2000, 3000, 4000, 5000], "format": "d", "labelOverlap": false}}},
 "layer": [
  {"transform": [{"filter": "datum.b == 'β = 0.2'"}], "mark": {"type": "area", "fillOpacity": 0.45, "clip": true}, "encoding": {"y": {"field": "lo", "type": "quantitative", "title": null, "scale": {"domain": [5, 30], "nice": false, "zero": false}}, "y2": {"field": "hi"}, "fill": {"field": "b", "type": "nominal", "title": null, "scale": {"domain": ["β = 0.2", "β = 0.4", "β = 0.6", "β = 0.8", "β = 1"], "range": ["#ff0000", "#000000", "#32cd32", "#0000ff", "#00ffff"]}, "legend": {"orient": "none", "legendX": 0, "legendY": 0}}}},
  {"transform": [{"filter": "datum.b == 'β = 0.4'"}], "mark": {"type": "area", "fillOpacity": 0.45, "clip": true}, "encoding": {"y": {"field": "lo", "type": "quantitative", "title": null, "scale": {"domain": [5, 30], "nice": false, "zero": false}}, "y2": {"field": "hi"}, "fill": {"field": "b", "type": "nominal", "title": null, "scale": {"domain": ["β = 0.2", "β = 0.4", "β = 0.6", "β = 0.8", "β = 1"], "range": ["#ff0000", "#000000", "#32cd32", "#0000ff", "#00ffff"]}, "legend": {"orient": "none", "legendX": 0, "legendY": 0}}}},
  {"transform": [{"filter": "datum.b == 'β = 0.6'"}], "mark": {"type": "area", "fillOpacity": 0.45, "clip": true}, "encoding": {"y": {"field": "lo", "type": "quantitative", "title": null, "scale": {"domain": [5, 30], "nice": false, "zero": false}}, "y2": {"field": "hi"}, "fill": {"field": "b", "type": "nominal", "title": null, "scale": {"domain": ["β = 0.2", "β = 0.4", "β = 0.6", "β = 0.8", "β = 1"], "range": ["#ff0000", "#000000", "#32cd32", "#0000ff", "#00ffff"]}, "legend": {"orient": "none", "legendX": 0, "legendY": 0}}}},
  {"transform": [{"filter": "datum.b == 'β = 0.8'"}], "mark": {"type": "area", "fillOpacity": 0.45, "clip": true}, "encoding": {"y": {"field": "lo", "type": "quantitative", "title": null, "scale": {"domain": [5, 30], "nice": false, "zero": false}}, "y2": {"field": "hi"}, "fill": {"field": "b", "type": "nominal", "title": null, "scale": {"domain": ["β = 0.2", "β = 0.4", "β = 0.6", "β = 0.8", "β = 1"], "range": ["#ff0000", "#000000", "#32cd32", "#0000ff", "#00ffff"]}, "legend": {"orient": "none", "legendX": 0, "legendY": 0}}}},
  {"transform": [{"filter": "datum.b == 'β = 1'"}], "mark": {"type": "area", "fillOpacity": 0.45, "clip": true}, "encoding": {"y": {"field": "lo", "type": "quantitative", "title": null, "scale": {"domain": [5, 30], "nice": false, "zero": false}}, "y2": {"field": "hi"}, "fill": {"field": "b", "type": "nominal", "title": null, "scale": {"domain": ["β = 0.2", "β = 0.4", "β = 0.6", "β = 0.8", "β = 1"], "range": ["#ff0000", "#000000", "#32cd32", "#0000ff", "#00ffff"]}, "legend": {"orient": "none", "legendX": 0, "legendY": 0}}}},
  {"mark": {"type": "line", "strokeWidth": 2, "clip": true}, "encoding": {"y": {"field": "y", "type": "quantitative", "title": null, "scale": {"domain": [5, 30], "nice": false, "zero": false}, "axis": {"values": [5, 10, 15, 20, 25, 30], "tickCount": 12, "format": "d", "labelOverlap": false}}, "stroke": {"field": "b", "type": "nominal", "legend": null, "scale": {"domain": ["β = 0.2", "β = 0.4", "β = 0.6", "β = 0.8", "β = 1"], "range": ["#ff0000", "#000000", "#32cd32", "#0000ff", "#00ffff"]}}}}
 ]
},
{
 "title": "Efficiency", "width": 492, "height": 348, "data": {"name": "E"},
 "encoding": {"x": {"field": "x", "type": "quantitative", "scale": {"domain": [0, 5000], "nice": false, "zero": false}, "axis": {"title": "Number of episodes", "values": [0, 1000, 2000, 3000, 4000, 5000], "format": "d", "labelOverlap": false}}},
 "layer": [
  {"transform": [{"filter": "datum.b == 'β = 0.2'"}], "mark": {"type": "area", "fillOpacity": 0.45, "clip": true}, "encoding": {"y": {"field": "lo", "type": "quantitative", "title": null, "scale": {"domain": [0.05, 0.5], "nice": false, "zero": false}}, "y2": {"field": "hi"}, "fill": {"field": "b", "type": "nominal", "title": null, "scale": {"domain": ["β = 0.2", "β = 0.4", "β = 0.6", "β = 0.8", "β = 1"], "range": ["#ff0000", "#000000", "#32cd32", "#0000ff", "#00ffff"]}, "legend": {"orient": "none", "legendX": 0, "legendY": 0}}}},
  {"transform": [{"filter": "datum.b == 'β = 0.4'"}], "mark": {"type": "area", "fillOpacity": 0.45, "clip": true}, "encoding": {"y": {"field": "lo", "type": "quantitative", "title": null, "scale": {"domain": [0.05, 0.5], "nice": false, "zero": false}}, "y2": {"field": "hi"}, "fill": {"field": "b", "type": "nominal", "title": null, "scale": {"domain": ["β = 0.2", "β = 0.4", "β = 0.6", "β = 0.8", "β = 1"], "range": ["#ff0000", "#000000", "#32cd32", "#0000ff", "#00ffff"]}, "legend": {"orient": "none", "legendX": 0, "legendY": 0}}}},
  {"transform": [{"filter": "datum.b == 'β = 0.6'"}], "mark": {"type": "area", "fillOpacity": 0.45, "clip": true}, "encoding": {"y": {"field": "lo", "type": "quantitative", "title": null, "scale": {"domain": [0.05, 0.5], "nice": false, "zero": false}}, "y2": {"field": "hi"}, "fill": {"field": "b", "type": "nominal", "title": null, "scale": {"domain": ["β = 0.2", "β = 0.4", "β = 0.6", "β = 0.8", "β = 1"], "range": ["#ff0000", "#000000", "#32cd32", "#0000ff", "#00ffff"]}, "legend": {"orient": "none", "legendX": 0, "legendY": 0}}}},
  {"transform": [{"filter": "datum.b == 'β = 0.8'"}], "mark": {"type": "area", "fillOpacity": 0.45, "clip": true}, "encoding": {"y": {"field": "lo", "type": "quantitative", "title": null, "scale": {"domain": [0.05, 0.5], "nice": false, "zero": false}}, "y2": {"field": "hi"}, "fill": {"field": "b", "type": "nominal", "title": null, "scale": {"domain": ["β = 0.2", "β = 0.4", "β = 0.6", "β = 0.8", "β = 1"], "range": ["#ff0000", "#000000", "#32cd32", "#0000ff", "#00ffff"]}, "legend": {"orient": "none", "legendX": 0, "legendY": 0}}}},
  {"transform": [{"filter": "datum.b == 'β = 1'"}], "mark": {"type": "area", "fillOpacity": 0.45, "clip": true}, "encoding": {"y": {"field": "lo", "type": "quantitative", "title": null, "scale": {"domain": [0.05, 0.5], "nice": false, "zero": false}}, "y2": {"field": "hi"}, "fill": {"field": "b", "type": "nominal", "title": null, "scale": {"domain": ["β = 0.2", "β = 0.4", "β = 0.6", "β = 0.8", "β = 1"], "range": ["#ff0000", "#000000", "#32cd32", "#0000ff", "#00ffff"]}, "legend": {"orient": "none", "legendX": 0, "legendY": 0}}}},
  {"mark": {"type": "line", "strokeWidth": 2, "clip": true}, "encoding": {"y": {"field": "y", "type": "quantitative", "title": null, "scale": {"domain": [0.05, 0.5], "nice": false, "zero": false}, "axis": {"values": [0.05, 0.1, 0.15, 0.2, 0.25, 0.3, 0.35, 0.4, 0.45, 0.5], "tickCount": 12, "format": ".2f", "labelOverlap": false}}, "stroke": {"field": "b", "type": "nominal", "legend": null, "scale": {"domain": ["β = 0.2", "β = 0.4", "β = 0.6", "β = 0.8", "β = 1"], "range": ["#ff0000", "#000000", "#32cd32", "#0000ff", "#00ffff"]}}}}
 ]
},
{
 "title": "Reward", "width": 492, "height": 348, "data": {"name": "W"},
 "encoding": {"x": {"field": "x", "type": "quantitative", "scale": {"domain": [0, 5000], "nice": false, "zero": false}, "axis": {"title": "Number of episodes", "values": [0, 1000, 2000, 3000, 4000, 5000], "format": "d", "labelOverlap": false}}},
 "layer": [
  {"transform": [{"filter": "datum.b == 'β = 0.2'"}], "mark": {"type": "area", "fillOpacity": 0.45, "clip": true}, "encoding": {"y": {"field": "lo", "type": "quantitative", "title": null, "scale": {"domain": [0, 200], "nice": false, "zero": false}}, "y2": {"field": "hi"}, "fill": {"field": "b", "type": "nominal", "title": null, "scale": {"domain": ["β = 0.2", "β = 0.4", "β = 0.6", "β = 0.8", "β = 1"], "range": ["#ff0000", "#000000", "#32cd32", "#0000ff", "#00ffff"]}, "legend": {"orient": "none", "legendX": 0, "legendY": 0}}}},
  {"transform": [{"filter": "datum.b == 'β = 0.4'"}], "mark": {"type": "area", "fillOpacity": 0.45, "clip": true}, "encoding": {"y": {"field": "lo", "type": "quantitative", "title": null, "scale": {"domain": [0, 200], "nice": false, "zero": false}}, "y2": {"field": "hi"}, "fill": {"field": "b", "type": "nominal", "title": null, "scale": {"domain": ["β = 0.2", "β = 0.4", "β = 0.6", "β = 0.8", "β = 1"], "range": ["#ff0000", "#000000", "#32cd32", "#0000ff", "#00ffff"]}, "legend": {"orient": "none", "legendX": 0, "legendY": 0}}}},
  {"transform": [{"filter": "datum.b == 'β = 0.6'"}], "mark": {"type": "area", "fillOpacity": 0.45, "clip": true}, "encoding": {"y": {"field": "lo", "type": "quantitative", "title": null, "scale": {"domain": [0, 200], "nice": false, "zero": false}}, "y2": {"field": "hi"}, "fill": {"field": "b", "type": "nominal", "title": null, "scale": {"domain": ["β = 0.2", "β = 0.4", "β = 0.6", "β = 0.8", "β = 1"], "range": ["#ff0000", "#000000", "#32cd32", "#0000ff", "#00ffff"]}, "legend": {"orient": "none", "legendX": 0, "legendY": 0}}}},
  {"transform": [{"filter": "datum.b == 'β = 0.8'"}], "mark": {"type": "area", "fillOpacity": 0.45, "clip": true}, "encoding": {"y": {"field": "lo", "type": "quantitative", "title": null, "scale": {"domain": [0, 200], "nice": false, "zero": false}}, "y2": {"field": "hi"}, "fill": {"field": "b", "type": "nominal", "title": null, "scale": {"domain": ["β = 0.2", "β = 0.4", "β = 0.6", "β = 0.8", "β = 1"], "range": ["#ff0000", "#000000", "#32cd32", "#0000ff", "#00ffff"]}, "legend": {"orient": "none", "legendX": 0, "legendY": 0}}}},
  {"transform": [{"filter": "datum.b == 'β = 1'"}], "mark": {"type": "area", "fillOpacity": 0.45, "clip": true}, "encoding": {"y": {"field": "lo", "type": "quantitative", "title": null, "scale": {"domain": [0, 200], "nice": false, "zero": false}}, "y2": {"field": "hi"}, "fill": {"field": "b", "type": "nominal", "title": null, "scale": {"domain": ["β = 0.2", "β = 0.4", "β = 0.6", "β = 0.8", "β = 1"], "range": ["#ff0000", "#000000", "#32cd32", "#0000ff", "#00ffff"]}, "legend": {"orient": "none", "legendX": 0, "legendY": 0}}}},
  {"mark": {"type": "line", "strokeWidth": 2, "clip": true}, "encoding": {"y": {"field": "y", "type": "quantitative", "title": null, "scale": {"domain": [0, 200], "nice": false, "zero": false}, "axis": {"values": [0, 25, 50, 75, 100, 125, 150, 175, 200], "tickCount": 12, "format": "d", "labelOverlap": false}}, "stroke": {"field": "b", "type": "nominal", "legend": null, "scale": {"domain": ["β = 0.2", "β = 0.4", "β = 0.6", "β = 0.8", "β = 1"], "range": ["#ff0000", "#000000", "#32cd32", "#0000ff", "#00ffff"]}}}}
 ]
}
]
}
